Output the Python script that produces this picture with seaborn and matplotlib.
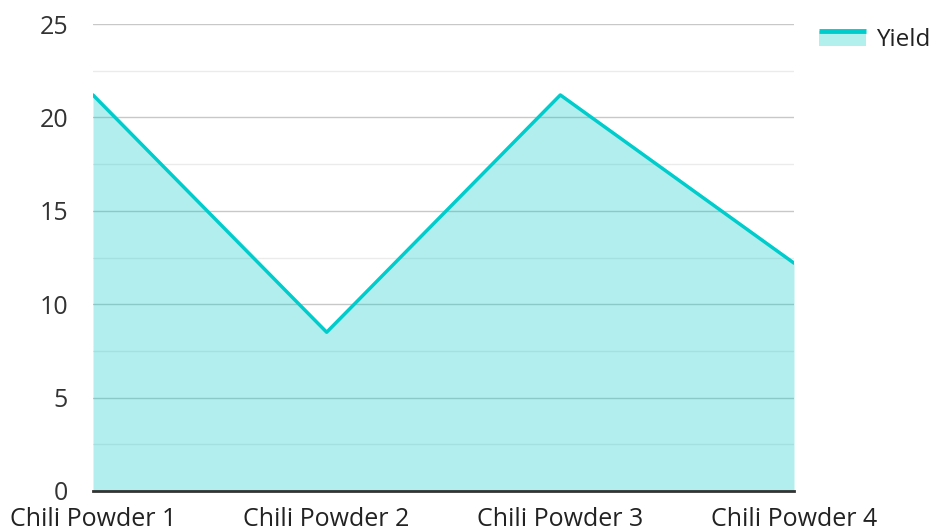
import matplotlib
matplotlib.use("Agg")
import matplotlib.pyplot as plt
from matplotlib.patches import Rectangle
from matplotlib.lines import Line2D
from matplotlib.legend_handler import HandlerBase
from matplotlib.ticker import MultipleLocator
import pandas as pd
import seaborn as sns

categories = ["Chili Powder 1", "Chili Powder 2", "Chili Powder 3", "Chili Powder 4"]
yield_values = [21.2, 8.5, 21.2, 12.2]

df = pd.DataFrame({"category": categories, "Yield": yield_values})
df["pos"] = range(len(df))

sns.set_theme(style="white")
plt.rcParams["font.family"] = ["Open Sans", "DejaVu Sans"]

line_color = "#00CCCC"
fill_color = "#B2F0EE"


class AreaHandler(HandlerBase):
    # line on top, filled band underneath
    def create_artists(self, legend, orig_handle, xdescent, ydescent, width, height, fontsize, trans):
        top = height * 0.85
        rect = Rectangle((-xdescent, -ydescent + height * 0.05), width, top - height * 0.05,
                         facecolor=fill_color, edgecolor="none", transform=trans)
        ln = Line2D([-xdescent, -xdescent + width], [top - ydescent, top - ydescent],
                    color=line_color, lw=3.5, solid_capstyle="butt", transform=trans)
        return [rect, ln]


fig = plt.figure(figsize=(9.35, 5.31), dpi=100)
ax = fig.add_axes([93 / 935, 1 - 491 / 531, (794 - 93) / 935, (491 - 24) / 531])

ax.fill_between(df["pos"], df["Yield"], 0, color="#00C8C8", alpha=0.3, lw=0, zorder=2)
sns.lineplot(data=df, x="pos", y="Yield", color=line_color, lw=2.5, ax=ax, zorder=3)

ax.set_xlim(0, 3)
ax.set_ylim(0, 25)
ax.yaxis.set_major_locator(MultipleLocator(5))
ax.yaxis.set_minor_locator(MultipleLocator(2.5))
ax.grid(which="major", axis="y", color="#C8C8C8", lw=1, zorder=1)
ax.grid(which="minor", axis="y", color="#EBEBEB", lw=1, zorder=1)
ax.set_axisbelow(True)

ax.set_xticks(df["pos"])
ax.set_xticklabels(categories)
ax.set_xlabel("")
ax.set_ylabel("")
ax.tick_params(axis="x", length=0, pad=11.5, labelsize=18, labelcolor="#222222")
ax.tick_params(axis="y", which="both", length=0, pad=18, labelsize=18, labelcolor="#333333")

for s in ["top", "right", "left"]:
    ax.spines[s].set_visible(False)
ax.spines["bottom"].set_color("#333333")
ax.spines["bottom"].set_linewidth(2)
ax.spines["bottom"].set_zorder(4)

handle = Rectangle((0, 0), 1, 1)
ax.legend([handle], ["Yield"], handler_map={Rectangle: AreaHandler()},
          loc="upper left", bbox_to_anchor=(1.035, 0.991),
          frameon=False, fontsize=17.5, handlelength=1.97, handleheight=0.8,
          handletextpad=0.4, labelcolor="#222222", borderpad=0, borderaxespad=0)

fig.savefig("out.png", dpi=100)
